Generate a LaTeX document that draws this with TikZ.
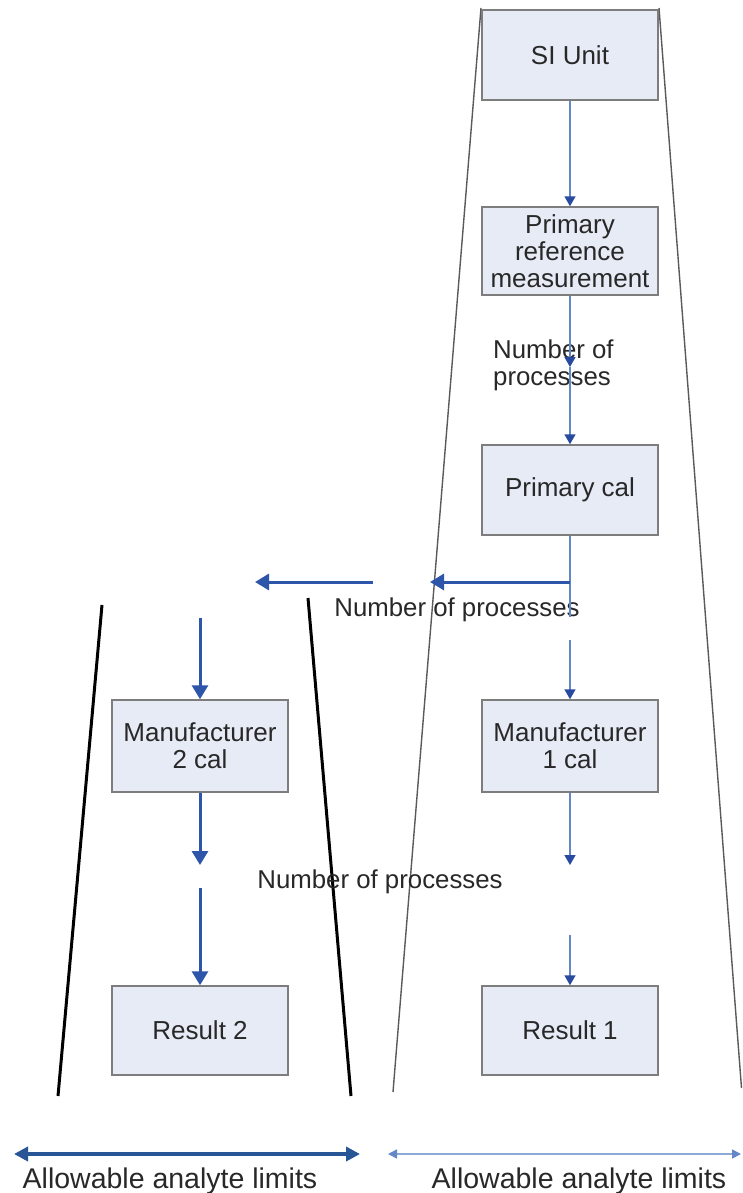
\documentclass[tikz,border=0pt]{standalone}
\usepackage{fontspec}
\setmainfont{Liberation Sans}
\usetikzlibrary{arrows.meta}
\definecolor{boxfill}{RGB}{230,235,246}
\definecolor{boxdraw}{RGB}{125,125,125}
\definecolor{txt}{RGB}{40,40,40}
\definecolor{thinblue}{RGB}{100,135,200}
\definecolor{headblue}{RGB}{40,75,160}
\definecolor{thickblue}{RGB}{45,85,170}
\definecolor{trapgray}{RGB}{90,90,90}
\definecolor{limdark}{RGB}{40,85,150}
\definecolor{limlight}{RGB}{140,170,215}
\begin{document}
\begin{tikzpicture}[x=1pt,y=-1pt,
  box/.style={draw=boxdraw, line width=1.5pt, fill=boxfill, minimum width=176pt,
    minimum height=90pt, inner sep=0pt, align=center, text=txt,
    font=\fontsize{26}{27}\selectfont},
  lbl/.style={text=txt, inner sep=0pt, font=\fontsize{25.8}{27}\selectfont},
  limlbl/.style={text=txt, inner sep=0pt, font=\fontsize{28.5}{30}\selectfont},
  thinline/.style={draw=thinblue, line width=1.5pt},
  thinarrow/.style={thinline, -{Triangle[length=10pt,width=11pt,color=headblue]}},
  thickline/.style={draw=thickblue, line width=3pt},
  thickarrow/.style={thickline, -{Triangle[length=14pt,width=16pt]}},
  trapline/.style={draw=trapgray, line width=1.4pt},
  blackline/.style={draw=black, line width=3pt},
]
\useasboundingbox (0,0) rectangle (742,1193);
\fill[white] (0,0) rectangle (742,1193);

% wide (gray) trapezoid
\coordinate (tl) at (481,8);
\coordinate (bl) at (393,1092);
\coordinate (tr) at (659,8);
\coordinate (br) at (741.5,1088);
\draw[trapline] (tl) -- (bl);
\draw[trapline] (tr) -- (br);

% narrow (black) trapezoid
\coordinate (ktl) at (102,605);
\coordinate (kbl) at (58,1096);
\coordinate (ktr) at (308,598);
\coordinate (kbr) at (351,1096);
\draw[blackline] (ktl) -- (kbl);
\draw[blackline] (ktr) -- (kbr);

% boxes
\node[box] (si)   at (570,55)    {SI Unit};
\node[box, minimum height=88pt] (prm)  at (570,251)   {Primary\\reference\\measurement};
\node[box] (pcal) at (570,490)   {Primary cal};
\node[box, minimum height=92pt] (m1)   at (570,746)   {Manufacturer\\1 cal};
\node[box, minimum height=89pt] (r1)   at (570,1030.5){Result 1};
\node[box, minimum height=92pt] (m2)   at (200,746)   {Manufacturer\\2 cal};
\node[box, minimum height=89pt] (r2)   at (200,1030.5){Result 2};

% labels
\node[lbl, anchor=west, align=left] (np1) at (493,365) {Number of\\processes};
\node[lbl] (np2) at (457,610) {Number of processes};
\node[lbl] (np3) at (380,882) {Number of processes};

% right column connectors
\coordinate (mid1) at (570,367);
\draw[thinarrow] (si.south) -- (prm.north);
\draw[thinarrow] (prm.south) -- (mid1);
\draw[thinarrow] (mid1) -- (pcal.north);
\coordinate (corner) at (570,582);
\coordinate (cdown) at (570,617);
\coordinate (ctip) at (430,582);
\draw[thinline] (pcal.south) -- (corner) -- (cdown);
\draw[thickarrow] (corner) -- (ctip);
\coordinate (m1in) at (570,640);
\draw[thinarrow] (m1in) -- (m1.north);
\coordinate (m1out) at (570,865);
\draw[thinarrow] (m1.south) -- (m1out);
\coordinate (r1in) at (570,935);
\draw[thinarrow] (r1in) -- (r1.north);

% left arrow
\coordinate (ltail) at (373,582);
\coordinate (ltip) at (255,582);
\draw[thickarrow] (ltail) -- (ltip);

% left column connectors
\coordinate (m2in) at (200,618);
\draw[thickarrow] (m2in) -- (m2.north);
\coordinate (m2out) at (200,865);
\draw[thickarrow] (m2.south) -- (m2out);
\coordinate (r2in) at (200,888);
\draw[thickarrow] (r2in) -- (r2.north);

% allowable limits
\coordinate (la) at (14,1154);
\coordinate (lb) at (360,1154);
\draw[draw=limdark, line width=3.5pt, {Triangle[length=14pt,width=14pt]}-{Triangle[length=14pt,width=14pt]}] (la) -- (lb);
\coordinate (ra) at (388,1154);
\coordinate (rb) at (741,1154);
\draw[draw=limlight, line width=1.5pt, {Triangle[length=9pt,width=9pt,color=thinblue]}-{Triangle[length=9pt,width=9pt,color=thinblue]}] (ra) -- (rb);
\node[limlbl] (al1) at (170,1181) {Allowable analyte limits};
\node[limlbl] (al2) at (579,1181) {Allowable analyte limits};
\end{tikzpicture}
\end{document}
